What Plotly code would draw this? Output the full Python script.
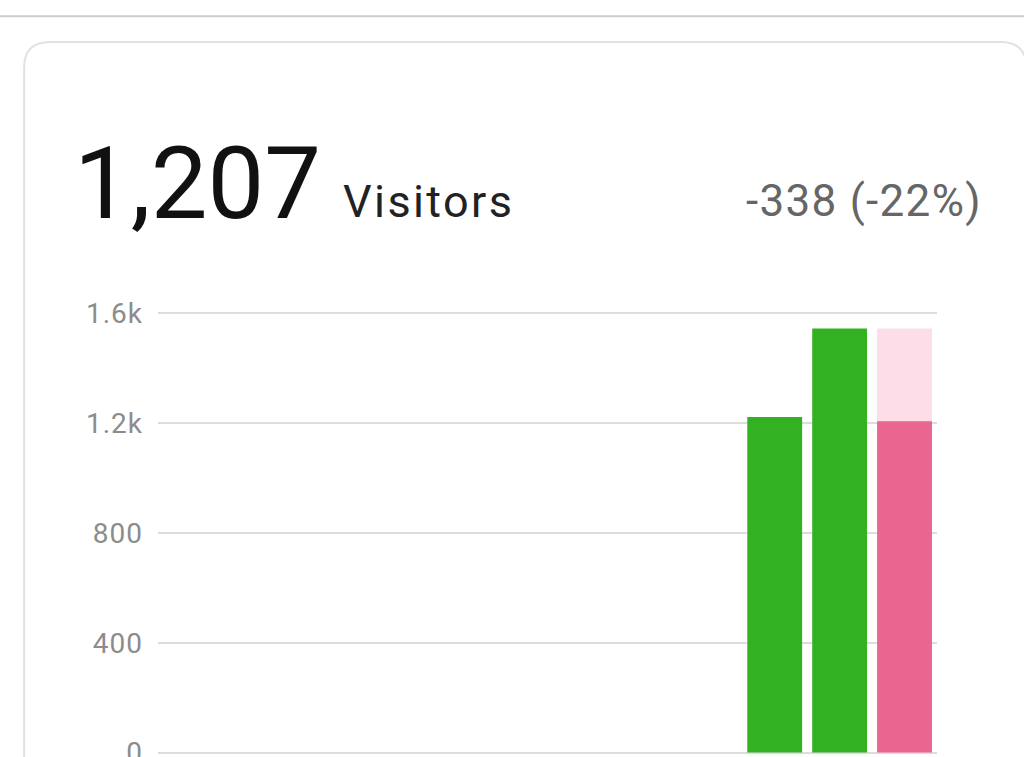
import plotly.graph_objects as go

# ---- data ----
categories = ["Jan", "Feb", "Mar", "Apr", "May", "Jun", "Jul", "Aug", "Sep", "Oct", "Nov", "Dec"]
visitors = [None, None, None, None, None, None, None, None, None, 1223, 1545, 1207]
previous = [None, None, None, None, None, None, None, None, None, None, None, 1545]
bar_colors = ["#32b223"] * 11 + ["#e8668f"]
tick_vals = [0, 400, 800, 1200, 1600]
tick_text = ["0", "400", "800", "1.2k", "1.6k"]
total_text = "1,207"
unit_text = "Visitors"
change_text = "-338 (-22%)"

Y_MIN, Y_MAX = -60, 1620
W, H = 1024, 800
# pixel geometry of the plot area
X_LEFT, X_RIGHT = 158.3, 936.7
Y_ZERO_PX, Y_TOP_TICK_PX = 752.7, 313.3
k = (Y_ZERO_PX - Y_TOP_TICK_PX) / 1600.0
plot_top = Y_ZERO_PX - Y_MAX * k
plot_bot = Y_ZERO_PX - Y_MIN * k
L, R, T, B = X_LEFT, W - X_RIGHT, plot_top, H - plot_bot
PW, PH = W - L - R, H - T - B


def px(x):
    return (x - L) / PW


def py(y):
    return (H - B - y) / PH


fig = go.Figure()
fig.add_trace(go.Bar(x=categories, y=previous, marker=dict(color="#fcdde8", line=dict(width=0)),
                     hoverinfo="skip", showlegend=False))
fig.add_trace(go.Bar(x=categories, y=visitors, marker=dict(color=bar_colors, line=dict(width=0)),
                     showlegend=False))

# card outline
cl, ct, cr, cb, rad = 24.5, 41.5, 1026, 820, 26
path = (f"M {px(cl)} {py(cb)} L {px(cl)} {py(ct + rad)} "
        f"Q {px(cl)} {py(ct)} {px(cl + rad)} {py(ct)} "
        f"L {px(cr - rad)} {py(ct)} Q {px(cr)} {py(ct)} {px(cr)} {py(ct + rad)} "
        f"L {px(cr)} {py(cb)}")
shapes = [
    dict(type="path", xref="paper", yref="paper", path=path,
         line=dict(color="#e2e2e2", width=2), layer="below"),
    dict(type="line", xref="paper", yref="paper", x0=px(0), x1=px(W), y0=py(15.7), y1=py(15.7),
         line=dict(color="#cccccc", width=2)),
]

annotations = [
    dict(text=total_text, xref="paper", yref="paper", x=px(72), y=py(183), xanchor="left", yanchor="middle",
         showarrow=False, font=dict(family="Roboto", size=101, color="#111111")),
    dict(text=f"<span style='letter-spacing:2.4px'>{unit_text}</span>", xref="paper", yref="paper",
         x=px(341), y=py(201), xanchor="left", yanchor="middle",
         showarrow=False, font=dict(family="Roboto", size=45, color="#222222")),
    dict(text=f"<span style='letter-spacing:1.3px'>{change_text}</span>", xref="paper", yref="paper",
         x=px(984), y=py(201), xanchor="right", yanchor="middle",
         showarrow=False, font=dict(family="Roboto", size=44, color="#666666")),
]

fig.update_layout(
    width=W, height=H,
    margin=dict(l=L, r=R, t=T, b=B, pad=0),
    paper_bgcolor="white", plot_bgcolor="white",
    barmode="overlay", bargap=0.155,
    shapes=shapes, annotations=annotations,
    xaxis=dict(showticklabels=False, showgrid=False, zeroline=False, showline=False,
               categoryorder="array", categoryarray=categories, fixedrange=True),
    yaxis=dict(range=[Y_MIN, Y_MAX], tickvals=tick_vals,
               ticktext=[f"<span style='letter-spacing:1px'>{t}</span>" for t in tick_text],
               showgrid=True, gridcolor="#dddddd", gridwidth=2,
               zeroline=True, zerolinecolor="#dddddd", zerolinewidth=2, showline=False,
               tickfont=dict(family="Roboto", size=28, color="#8c8c8c"), ticklabelstandoff=14,
               fixedrange=True),
    font=dict(family="Roboto"),
)

fig.write_html("out.html", config={"displayModeBar": False},
               post_script="document.body.style.margin='0';document.body.style.overflow='hidden';")
